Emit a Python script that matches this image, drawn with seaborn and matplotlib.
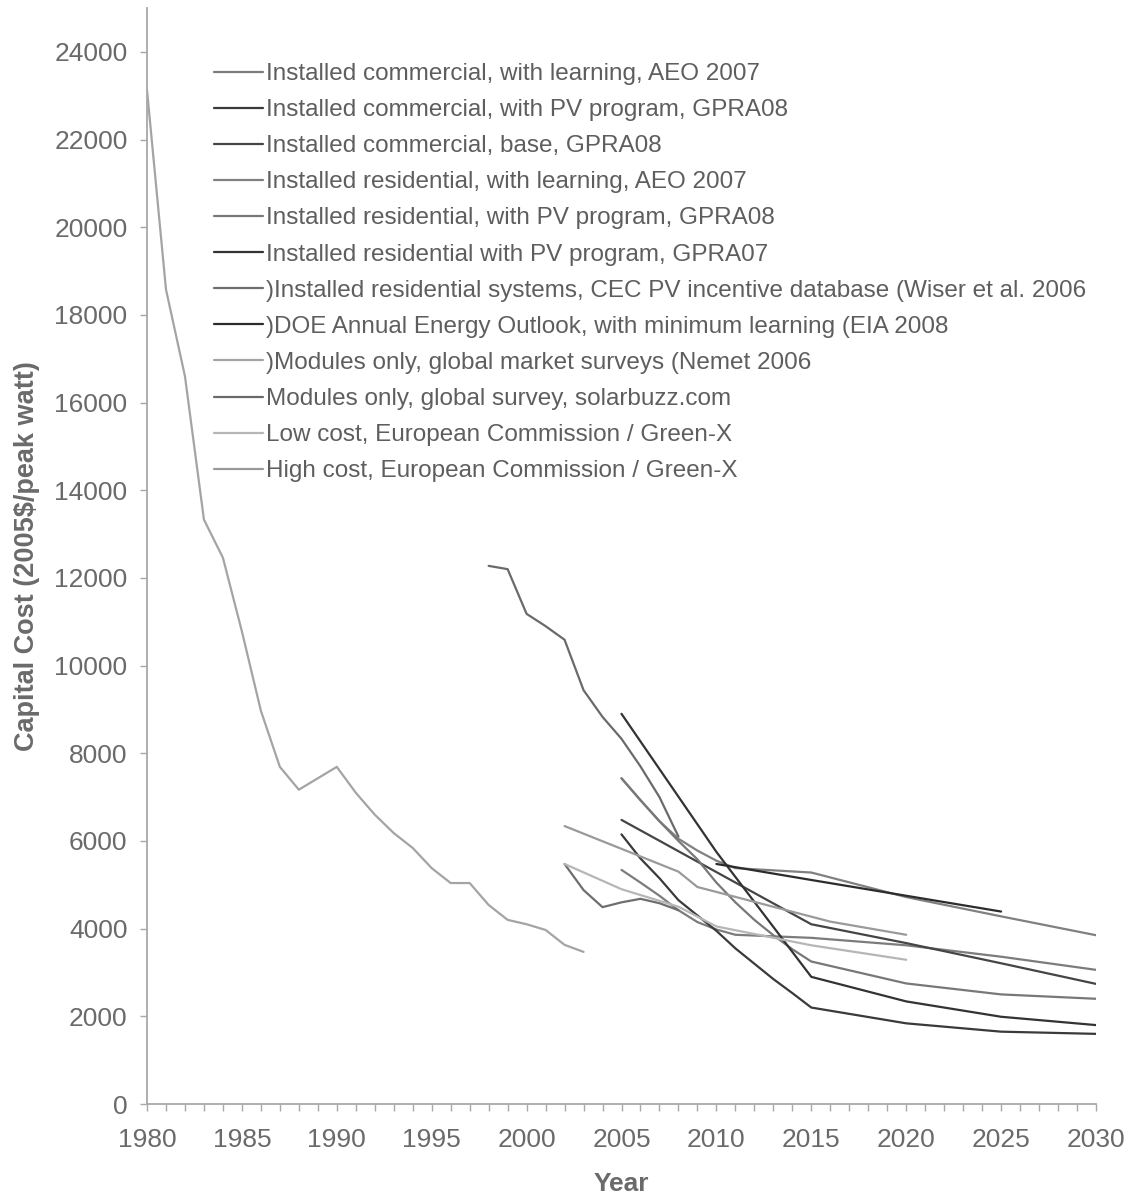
import numpy as np
import pandas as pd
import matplotlib
matplotlib.use("Agg")
import matplotlib.pyplot as plt
import seaborn as sns

# ---------------- data ----------------
labels = [
    "Installed commercial, with learning, AEO 2007",
    "Installed commercial, with PV program, GPRA08",
    "Installed commercial, base, GPRA08",
    "Installed residential, with learning, AEO 2007",
    "Installed residential, with PV program, GPRA08",
    "Installed residential with PV program, GPRA07",
    ")Installed residential systems, CEC PV incentive database (Wiser et al. 2006",
    ")DOE Annual Energy Outlook, with minimum learning (EIA 2008",
    ")Modules only, global market surveys (Nemet 2006",
    "Modules only, global survey, solarbuzz.com",
    "Low cost, European Commission / Green-X",
    "High cost, European Commission / Green-X",
]

comm_aeo_years = [2005, 2006, 2007, 2008, 2009, 2010, 2011, 2015, 2020, 2025, 2030]
comm_aeo_vals = [5340, 5050, 4750, 4420, 4150, 3980, 3860, 3790, 3620, 3360, 3060]

comm_pv08_years = [2005, 2006, 2007, 2008, 2009, 2010, 2011, 2012, 2013, 2014, 2015, 2020, 2025, 2030]
comm_pv08_vals = [6150, 5600, 5150, 4650, 4300, 3950, 3550, 3200, 2850, 2530, 2200, 1840, 1650, 1600]

comm_base08_years = [2005, 2010, 2015, 2020, 2025, 2030]
comm_base08_vals = [6480, 5290, 4100, 3670, 3210, 2740]

res_aeo_years = [2005, 2006, 2007, 2008, 2009, 2010, 2011, 2015, 2020, 2025, 2030]
res_aeo_vals = [7430, 6930, 6450, 6050, 5780, 5550, 5380, 5280, 4720, 4280, 3850]

res_pv08_years = [2005, 2006, 2007, 2008, 2009, 2010, 2011, 2012, 2013, 2014, 2015, 2020, 2025, 2030]
res_pv08_vals = [7430, 6930, 6450, 6000, 5580, 5050, 4600, 4200, 3850, 3530, 3250, 2750, 2500, 2400]

res_pv07_years = [2005, 2010, 2015, 2020, 2025, 2030]
res_pv07_vals = [8900, 5750, 2900, 2340, 1990, 1800]

cec_years = [2002, 2003, 2004, 2005, 2006, 2007, 2008]
cec_vals = [5475, 4880, 4490, 4600, 4680, 4580, 4420]

doe_years = [2010, 2015, 2020, 2025]
doe_vals = [5475, 5110, 4750, 4390]

nemet_years = list(range(1980, 2004))
nemet_vals = [23130, 18580, 16600, 13330, 12460, 10780, 8970, 7690, 7170, 7430,
              7690, 7100, 6600, 6180, 5840, 5380, 5040, 5040, 4540, 4200,
              4100, 3970, 3630, 3470]

solarbuzz_years = [1998, 1999, 2000, 2001, 2002, 2003, 2004, 2005, 2006, 2007, 2008]
solarbuzz_vals = [12275, 12200, 11180, 10900, 10590, 9440, 8830, 8330, 7700, 7000, 6100]

gx_low_years = [2002, 2005, 2008, 2010, 2015, 2020]
gx_low_vals = [5475, 4900, 4500, 4050, 3620, 3290]

gx_high_years = [2002, 2008, 2009, 2016, 2020]
gx_high_vals = [6340, 5300, 4950, 4160, 3860]

series_years = [comm_aeo_years, comm_pv08_years, comm_base08_years, res_aeo_years,
                res_pv08_years, res_pv07_years, cec_years, doe_years, nemet_years,
                solarbuzz_years, gx_low_years, gx_high_years]
series_vals = [comm_aeo_vals, comm_pv08_vals, comm_base08_vals, res_aeo_vals,
               res_pv08_vals, res_pv07_vals, cec_vals, doe_vals, nemet_vals,
               solarbuzz_vals, gx_low_vals, gx_high_vals]

colors = ["#7c7c7c", "#3a3a3a", "#454545", "#808080", "#787878", "#333333",
          "#6e6e6e", "#2c2c2c", "#a4a4a4", "#6a6a6a", "#b6b6b6", "#9a9a9a"]

rows = []
for lab, ys, vs in zip(labels, series_years, series_vals):
    for y, v in zip(ys, vs):
        rows.append({"series": lab, "Year": y, "Cost": v})
df = pd.DataFrame(rows)

# ---------------- style ----------------
sns.set_style("white")
plt.rcParams["font.family"] = ["Liberation Sans", "DejaVu Sans"]

fig = plt.figure(figsize=(11.33, 12.02), dpi=100)
ax = fig.add_axes([147 / 1133, 1 - 1104 / 1202, (1096 - 147) / 1133, (1104 - 8) / 1202])

sns.lineplot(data=df, x="Year", y="Cost", hue="series", hue_order=labels,
             palette=dict(zip(labels, colors)), linewidth=1.6, ax=ax,
             estimator=None, sort=True)

ax.set_xlim(1980, 2030)
ax.set_ylim(0, 25000)
ax.set_xticks(np.arange(1980, 2031, 5))
ax.set_xticks(np.arange(1980, 2031, 1), minor=True)
ax.set_yticks(np.arange(0, 24001, 2000))

for s in ["top", "right"]:
    ax.spines[s].set_visible(False)
for s in ["left", "bottom"]:
    ax.spines[s].set_color("#a8a8a8")
    ax.spines[s].set_linewidth(1.3)

ax.tick_params(axis="both", which="both", direction="out", color="#a8a8a8",
               length=5, width=1.0, labelcolor="#6a6a6a", labelsize=19)
ax.tick_params(axis="x", which="both", bottom=True, pad=12)
ax.tick_params(axis="y", which="major", left=True, pad=9)
ax.tick_params(axis="y", which="minor", left=False)

ax.set_xlabel("Year", fontsize=19, fontweight="bold", color="#6a6a6a", labelpad=15)
ax.set_ylabel("Capital Cost (2005$/peak watt)", fontsize=19.5, fontweight="bold",
              color="#6a6a6a", labelpad=10)

leg = ax.legend(loc="upper left", bbox_to_anchor=(214 / 1133, 1 - 63 / 1202),
                bbox_transform=fig.transFigure, frameon=False, fontsize=17.5,
                handlelength=2.0, handletextpad=0.15, labelspacing=0.58,
                borderpad=0, borderaxespad=0)
for t in leg.get_texts():
    t.set_color("#5e5e5e")
for h in leg.get_lines():
    h.set_linewidth(1.6)

fig.savefig("out.png", dpi=100, facecolor="white")
